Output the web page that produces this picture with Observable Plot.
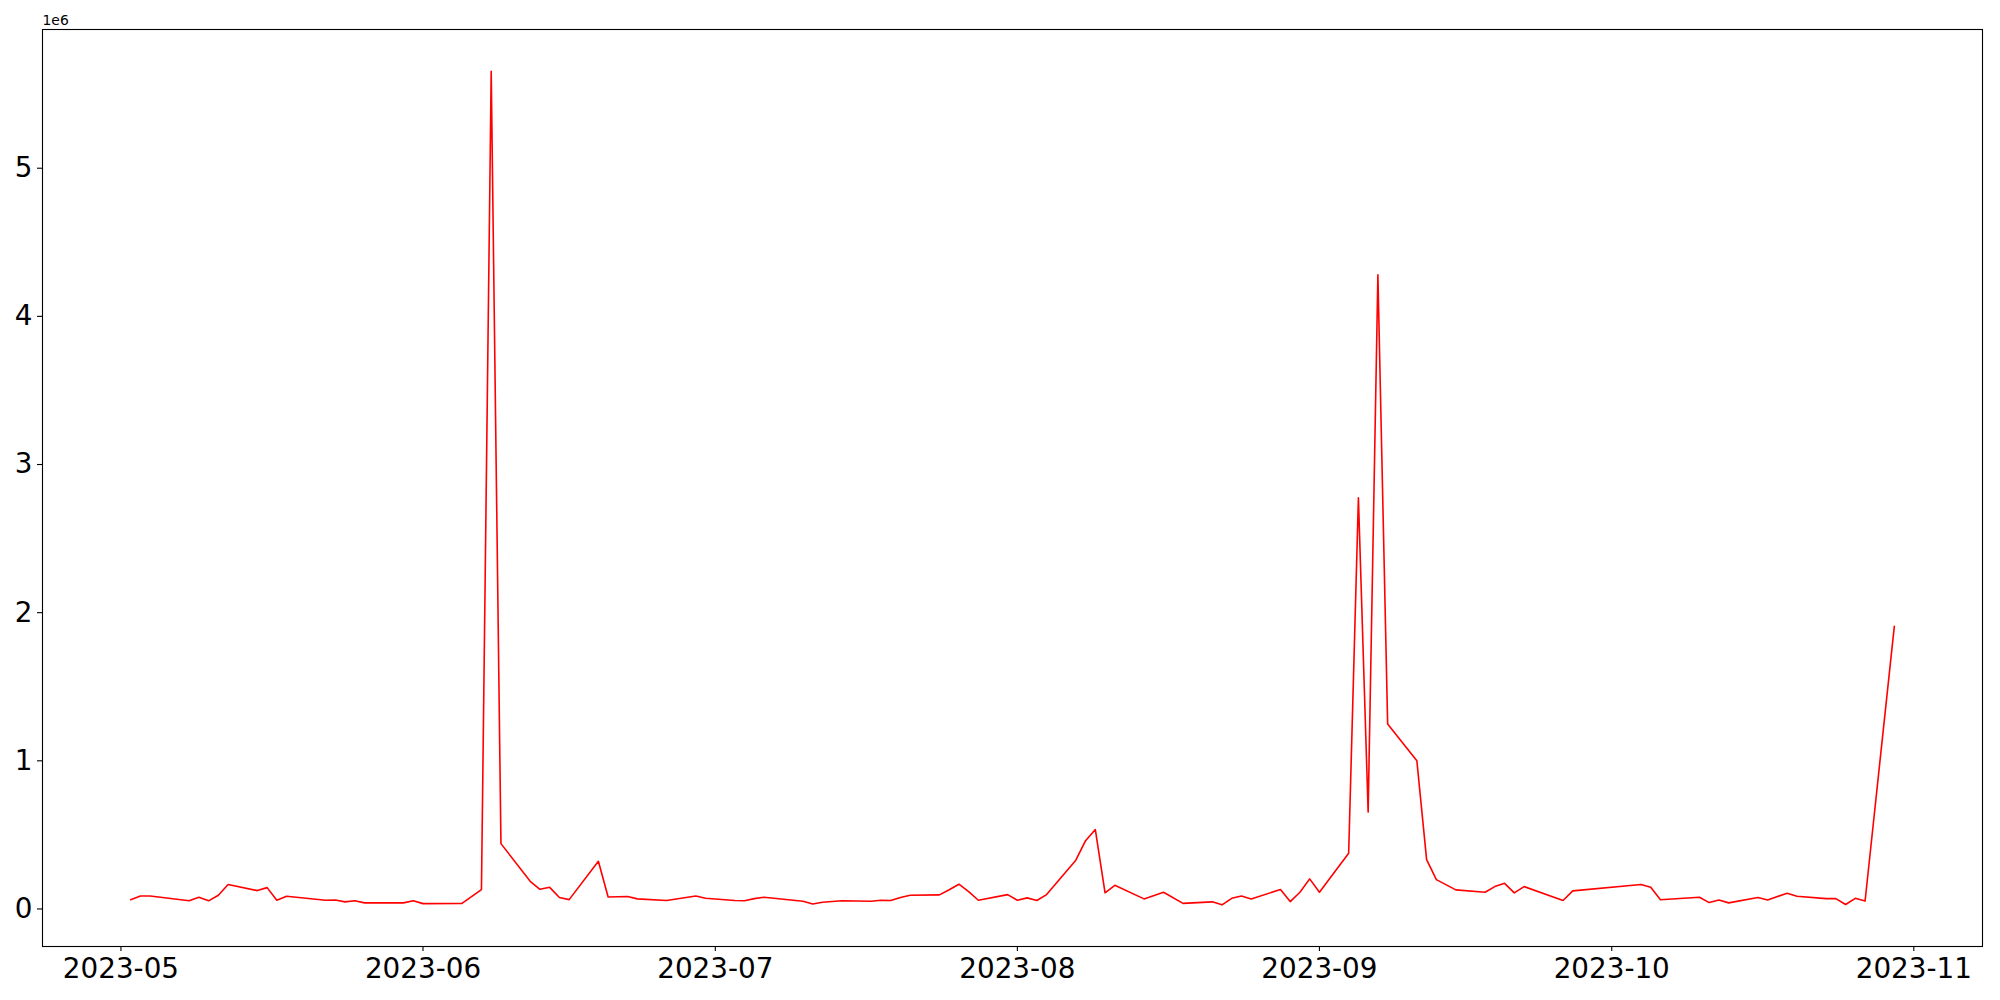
<!DOCTYPE html>
<html>
<head>
<meta charset="utf-8">
<script src="https://cdn.jsdelivr.net/npm/d3@7"></script>
<script src="https://cdn.jsdelivr.net/npm/@observablehq/plot@0.6"></script>
<style>
  html, body { margin: 0; padding: 0; background: #ffffff; }
  #chart { width: 2000px; height: 1000px; }
</style>
</head>
<body>
<div id="chart"></div>
<script>
const dates = [
  "2023-05-02","2023-05-03","2023-05-04","2023-05-08","2023-05-09","2023-05-10","2023-05-11","2023-05-12",
  "2023-05-15","2023-05-16","2023-05-17","2023-05-18","2023-05-22","2023-05-23","2023-05-24","2023-05-25",
  "2023-05-26","2023-05-30","2023-05-31","2023-06-01","2023-06-05","2023-06-07","2023-06-08","2023-06-09",
  "2023-06-12","2023-06-13","2023-06-14","2023-06-15","2023-06-16","2023-06-19","2023-06-20","2023-06-22",
  "2023-06-23","2023-06-26","2023-06-29","2023-06-30","2023-07-03","2023-07-04","2023-07-05","2023-07-06",
  "2023-07-10","2023-07-11","2023-07-12","2023-07-14","2023-07-17","2023-07-18","2023-07-19","2023-07-20",
  "2023-07-21","2023-07-24","2023-07-25","2023-07-26","2023-07-27","2023-07-28","2023-07-31","2023-08-01",
  "2023-08-02","2023-08-03","2023-08-04","2023-08-07","2023-08-08","2023-08-09","2023-08-10","2023-08-11",
  "2023-08-14","2023-08-16","2023-08-18","2023-08-21","2023-08-22","2023-08-23","2023-08-24","2023-08-25",
  "2023-08-28","2023-08-29","2023-08-30","2023-08-31","2023-09-01","2023-09-04","2023-09-05","2023-09-06",
  "2023-09-07","2023-09-08","2023-09-11","2023-09-12","2023-09-13","2023-09-15","2023-09-18","2023-09-19",
  "2023-09-20","2023-09-21","2023-09-22","2023-09-26","2023-09-27","2023-10-04","2023-10-05","2023-10-06",
  "2023-10-10","2023-10-11","2023-10-12","2023-10-13","2023-10-16","2023-10-17","2023-10-19","2023-10-20",
  "2023-10-23","2023-10-24","2023-10-25","2023-10-26","2023-10-27","2023-10-30"
];
const values = [
  63000, 88000, 88000, 55000, 79000, 55000, 93000, 165000,
  124000, 144000, 59000, 86000, 59000, 61000, 48000, 55000,
  41000, 41000, 55000, 36000, 38000, 131000, 5655000, 441000,
  187000, 133000, 146000, 77000, 63000, 322000, 81000, 84000,
  68000, 57000, 88000, 72000, 57000, 55000, 70000, 79000,
  52000, 34000, 45000, 55000, 52000, 59000, 57000, 78000,
  93000, 95000, 130000, 167000, 117000, 59000, 97000, 59000,
  75000, 57000, 97000, 329000, 461000, 536000, 109000, 160000,
  68000, 113000, 38000, 48000, 28000, 72000, 88000, 68000,
  131000, 50000, 113000, 203000, 113000, 376000, 2775000, 654000,
  4280000, 1248000, 1000000, 333000, 198000, 129000, 113000, 151000,
  173000, 109000, 151000, 57000, 122000, 165000, 147000, 62000,
  79000, 43000, 60000, 41000, 77000, 61000, 106000, 86000,
  70000, 70000, 30000, 72000, 54000, 1908000
];
const xTickLabels = ["2023-05","2023-06","2023-07","2023-08","2023-09","2023-10","2023-11"];
const yTickValues = [0, 1, 2, 3, 4, 5];
const yScaleLabel = "1e6";

const data = dates.map((d, i) => ({date: new Date(d + "T00:00:00Z"), value: values[i]}));

// matplotlib-style 5% margins
const [x0, x1] = d3.extent(data, d => +d.date);
const xPad = (x1 - x0) * 0.05;
const [y0, y1] = d3.extent(values);
const yPad = (y1 - y0) * 0.05;

const xTicks = xTickLabels.map(s => new Date(s + "-01T00:00:00Z"));
const fmt = d3.utcFormat("%Y-%m");

const chart = Plot.plot({
  width: 2000,
  height: 1000,
  marginLeft: 42,
  marginRight: 18,
  marginTop: 29,
  marginBottom: 54,
  style: {fontFamily: "DejaVu Sans", background: "#ffffff", color: "#000000"},
  x: {type: "utc", domain: [new Date(x0 - xPad), new Date(x1 + xPad)], label: null},
  y: {domain: [y0 - yPad, y1 + yPad], label: null},
  marks: [
    Plot.line(data, {x: "date", y: "value", stroke: "#ff0000", strokeWidth: 1.6}),
    Plot.frame({stroke: "#000000", strokeWidth: 1.1}),
    Plot.axisX({ticks: xTicks, tickFormat: fmt, tickSize: 5, tickPadding: 7, fontSize: 27.8, strokeWidth: 1.1, label: null}),
    Plot.axisY({ticks: yTickValues.map(v => v * 1e6), tickFormat: v => String(v / 1e6), tickSize: 5, tickPadding: 5, fontSize: 27.8, strokeWidth: 1.1, label: null}),
    Plot.text([yScaleLabel], {text: d => d, frameAnchor: "top-left", textAnchor: "start", lineAnchor: "bottom", dy: -5, fontSize: 13.9, fill: "#000000"})
  ]
});
document.getElementById("chart").appendChild(chart);
</script>
</body>
</html>
